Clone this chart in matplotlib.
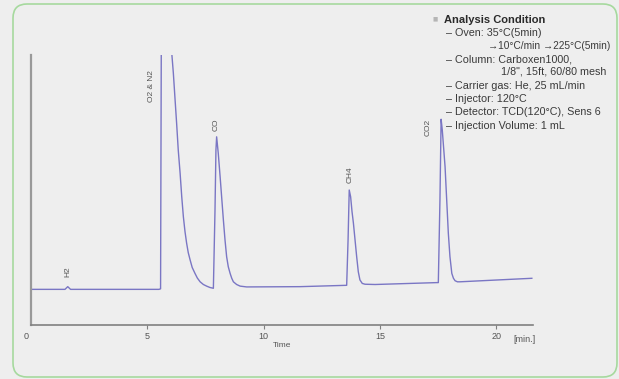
import matplotlib
matplotlib.use("Agg")
import matplotlib.pyplot as plt
from matplotlib.patches import FancyBboxPatch
from matplotlib.transforms import IdentityTransform, offset_copy

# chromatogram trace (time in min, detector signal in arbitrary units)
time = [0.00, 1.25, 1.46, 1.58, 1.70, 5.50, 5.57, 5.62,
        6.06, 6.12, 6.19, 6.26, 6.33, 6.41, 6.48, 6.55, 6.62, 6.69, 6.76,
        6.84, 6.93, 7.05, 7.15, 7.27, 7.41, 7.55, 7.69, 7.84,
        7.91, 7.95, 7.98, 8.05, 8.13, 8.20, 8.27, 8.34, 8.41, 8.48, 8.56,
        8.63, 8.70, 8.84, 8.99, 9.27, 11.56,
        13.57, 13.63, 13.68, 13.74, 13.80, 13.86, 13.93, 14.00, 14.07, 14.14,
        14.24, 14.36, 14.79,
        17.44, 17.51, 17.58, 17.63, 17.68, 17.80, 17.87, 17.94, 18.01, 18.09,
        18.16, 18.23, 18.33, 18.44, 21.53]
signal = [13.2, 13.2, 13.2, 14.2, 13.2, 13.2, 13.4, 160.0,
          99.7, 93.2, 83.9, 74.7, 64.8, 56.2, 47.5, 40.1, 34.6, 30.3, 26.8,
          24.1, 21.3, 19.1, 17.4, 16.0, 15.0, 14.4, 13.9, 13.6,
          42.6, 64.8, 69.7, 63.6, 54.9, 46.9, 38.9, 31.5, 25.3, 21.6, 19.1,
          17.3, 16.0, 15.0, 14.4, 14.1, 14.2,
          14.7, 31.5, 50.0, 47.5, 42.0, 37.7, 31.5, 25.3, 19.7, 16.7,
          15.4, 15.1, 15.0,
          15.7, 15.7, 46.3, 76.2, 72.2, 58.6, 46.3, 34.0, 25.3, 19.1,
          17.3, 16.4, 16.0, 16.0, 17.3]

peak_names = ["H2", "O2 & N2", "CO", "CH4", "CO2"]
peak_label_t = [1.59, 5.19, 7.95, 13.71, 17.07]
peak_label_s = [19.6, 88.5, 74.1, 55.6, 73.0]

x_ticks = [0, 5, 10, 15, 20]

conditions = [
    ("– Oven: 35°C(5min)", 446, 33),
    ("→10°C/min →225°C(5min)", 488, 46),
    ("– Column: Carboxen1000,", 446, 59),
    ("1/8\", 15ft, 60/80 mesh", 501, 72),
    ("– Carrier gas: He, 25 mL/min", 446, 86),
    ("– Injector: 120°C", 446, 99),
    ("– Detector: TCD(120°C), Sens 6", 446, 112),
    ("– Injection Volume: 1 mL", 446, 126),
]

W, H = 619, 379
bg = "#eeeeee"
line_color = "#7a76c4"
txt_font = ["Liberation Sans", "DejaVu Sans"]

fig = plt.figure(figsize=(W / 100, H / 100), dpi=100, facecolor=bg)
ax = fig.add_axes([31 / W, 1 - 325 / H, (533 - 31) / W, (325 - 55) / H])
ax.set_facecolor(bg)

ax.plot(time, signal, color=line_color, lw=1.0, solid_joinstyle="round")
ax.set_xlim(0, 21.58)
ax.set_ylim(0, 100)

for name, t, s in zip(peak_names, peak_label_t, peak_label_s):
    ax.text(t, s, name, rotation=90, ha="center", va="center",
            fontsize=6, color="#555555", family=txt_font)

for side in ["top", "right"]:
    ax.spines[side].set_visible(False)
ax.spines["left"].set_color("#999999")
ax.spines["left"].set_linewidth(1.6)
ax.spines["bottom"].set_color("#808080")
ax.spines["bottom"].set_linewidth(1.2)
ax.set_yticks([])
ax.set_xticks(x_ticks)
ax.set_xticklabels([str(v) for v in x_ticks], family=txt_font)
ax.tick_params(axis="x", length=3, width=0.8, color="#808080",
               labelsize=6.5, labelcolor="#555555", pad=2)
ax.xaxis.get_major_ticks()[0].tick1line.set_visible(False)
lbl0 = ax.get_xticklabels()[0]
lbl0.set_transform(offset_copy(lbl0.get_transform(), fig=fig, x=-5, y=0, units="dots"))

ax.set_xlabel("Time", fontsize=6, color="#555555", family=txt_font, labelpad=1)
fig.text(524 / W, 1 - 339 / H, "[min.]", fontsize=6.5, color="#555555",
         ha="center", va="center", family=txt_font)

# analysis condition block
fig.text(435 / W, 1 - 19 / H, "■", fontsize=4, color="#b5b5b5",
         ha="center", va="center", family=["DejaVu Sans"])
fig.text(444 / W, 1 - 20 / H, "Analysis Condition", fontsize=8,
         fontweight="bold", color="#2a2a2a", ha="left", va="center", family=txt_font)
for text, x, y in conditions:
    size = 7.3 if text.startswith("→") else 7.75
    fig.text(x / W, 1 - y / H, text, fontsize=size, color="#3a3a3a",
             ha="left", va="center", family=txt_font)

border = FancyBboxPatch((13, 2), 604, 373, boxstyle="round,pad=0,rounding_size=14",
                        transform=IdentityTransform(), facecolor="none",
                        edgecolor="#a6d99e", lw=1.2)
fig.add_artist(border)

fig.savefig("out.png", dpi=100, facecolor=bg)
